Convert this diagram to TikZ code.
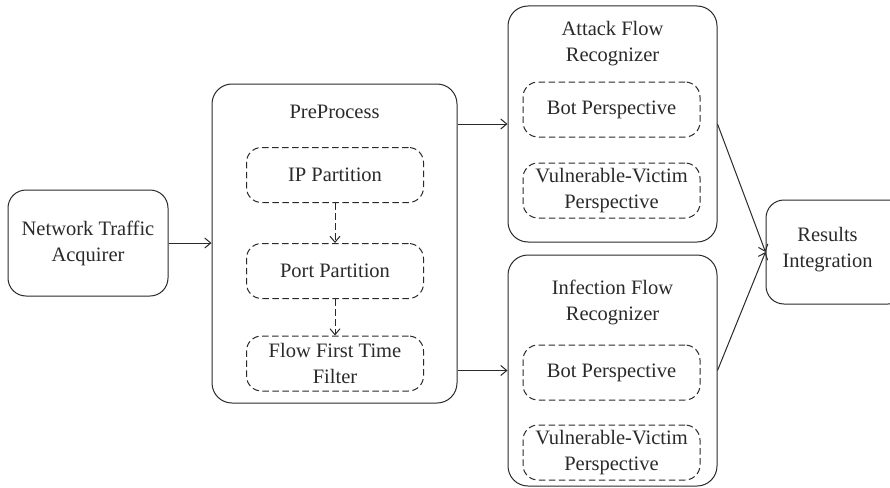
\documentclass[tikz,border=0pt]{standalone}
\usepackage{fontspec}
\setmainfont{Liberation Serif}
\newfontfamily\diagfont{Liberation Serif}
\usetikzlibrary{arrows.meta}
\definecolor{ink}{HTML}{2A2A2A}
\begin{document}
\begin{tikzpicture}[x=1pt,y=-1pt,
  every node/.style={font=\diagfont\fontsize{20.5}{26}\selectfont, text=ink, align=center, inner sep=0pt},
  solidbox/.style={draw=ink, line width=1pt, rounded corners=#1},
  solidbox/.default=18pt,
  dashbox/.style={draw=ink, line width=1pt, dash pattern=on 6.5pt off 3.5pt, rounded corners=15pt,
                  minimum width=177pt, minimum height=55pt},
  flow/.style={draw=ink, line width=1pt, -{Straight Barb[length=6pt,width=10pt]}},
  dflow/.style={flow, dash pattern=on 6.5pt off 3.5pt}
]
\useasboundingbox (0,0) rectangle (890,487);
\fill[white] (0,0) rectangle (890,487);

% input stage
\node[solidbox, minimum width=160pt, minimum height=106pt] (nta) at (88,243) {Network Traffic\\Acquirer};

% preprocessing container and its steps
\node[solidbox=20pt, minimum width=245pt, minimum height=319pt] (pre) at (334.5,243.5) {};
\node (pretitle) at (334.5,112) {PreProcess};
\node[dashbox] (ip) at (335,175) {IP Partition};
\node[dashbox] (port) at (335,271) {Port Partition};
\node[dashbox] (fft) at (335,363.5) {Flow First Time\\Filter};

% attack flow recognizer
\node[solidbox=20pt, minimum width=209pt, minimum height=236pt] (atk) at (612.5,124) {};
\node (atktitle) at (612.5,43.5) {Attack Flow\\Recognizer};
\node[dashbox] (abot) at (611.5,109.5) {Bot Perspective};
\node[dashbox] (avic) at (611.5,190.5) {Vulnerable-Victim\\Perspective};

% infection flow recognizer
\node[solidbox=20pt, minimum width=209pt, minimum height=231pt] (inf) at (612.5,370.5) {};
\node (inftitle) at (612.5,302.5) {Infection Flow\\Recognizer};
\node[dashbox] (ibot) at (611.5,372.5) {Bot Perspective};
\node[dashbox] (ivic) at (611.5,452.5) {Vulnerable-Victim\\Perspective};

% output stage
\node[solidbox, minimum width=140pt, minimum height=104pt] (res) at (836,252) {};
\node (restitle) at (827.5,250) {Results\\Integration};

% connectors
\draw[flow] (nta.east) -- (nta.east -| pre.west);
\draw[flow] (atk.west -| pre.east) -- (atk.west);
\draw[flow] (inf.west -| pre.east) -- (inf.west);
\draw[dflow] (ip.south) -- (port.north);
\draw[dflow] (port.south) -- (fft.north);
\draw[flow] (atk.east) -- (res.west);
\draw[flow] (inf.east) -- (res.west);
\end{tikzpicture}
\end{document}
